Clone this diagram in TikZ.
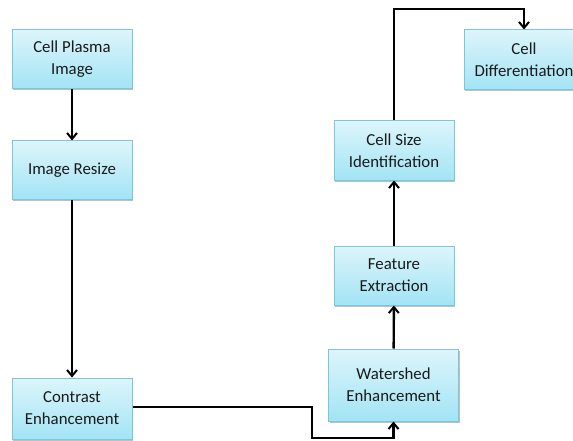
\documentclass[tikz,border=0pt]{standalone}
\usepackage{fontspec}
\setmainfont{Carlito}
\usetikzlibrary{arrows.meta,shadows}
\definecolor{boxtop}{HTML}{DDF5FB}
\definecolor{boxbot}{HTML}{A2E4F5}
\definecolor{boxline}{HTML}{7CC6DA}
\definecolor{textcol}{HTML}{1A1A1A}
\tikzset{
  procbox/.style={draw=boxline, line width=1pt, top color=boxtop, bottom color=boxbot,
    minimum width=120pt, minimum height=59pt, align=center, inner sep=1pt,
    font=\fontsize{16.8}{22}\selectfont, text=textcol,
    drop shadow={shadow xshift=1pt, shadow yshift=-1.5pt, fill=black, opacity=0.25}},
  flow/.style={line width=2.4pt, draw=black, -{Straight Barb[length=6pt,width=10pt,line width=2pt]}},
}
\begin{document}
\begin{tikzpicture}[x=1pt,y=-1pt]
\useasboundingbox (0,0) rectangle (573,441);
\node[procbox] (plasma) at (72,59.5) {Cell Plasma\\Image};
\node[procbox, minimum height=58pt] (resize) at (72,170) {Image Resize};
\node[procbox, minimum height=61pt] (contrast) at (72,408.5) {Contrast\\Enhancement};
\node[procbox, minimum width=130pt, minimum height=72pt] (water) at (393.5,385) {Watershed\\Enhancement};
\node[procbox] (feature) at (394,275.5) {Feature\\Extraction};
\node[procbox] (size) at (394,150.5) {Cell Size\\Identification};
\node[procbox, minimum height=60pt] (diff) at (524,60) {Cell\\Differentiation};
\coordinate (c1) at (312,407);
\coordinate (c2) at (312,438);
\coordinate (c3) at (393.5,438);
\coordinate (t1) at (394,9);
\coordinate (t2) at (524,9);
\draw[flow] (plasma) -- (resize);
\draw[flow] (resize) -- (contrast);
\draw[flow] (contrast.east |- c1) -- (c1) -- (c2) -- (c3) -- (water.south);
\draw[flow] (water) -- (feature);
\draw[flow] (feature) -- (size);
\draw[flow] (size.north) -- (t1) -- (t2) -- (diff.north);
\end{tikzpicture}
\end{document}
